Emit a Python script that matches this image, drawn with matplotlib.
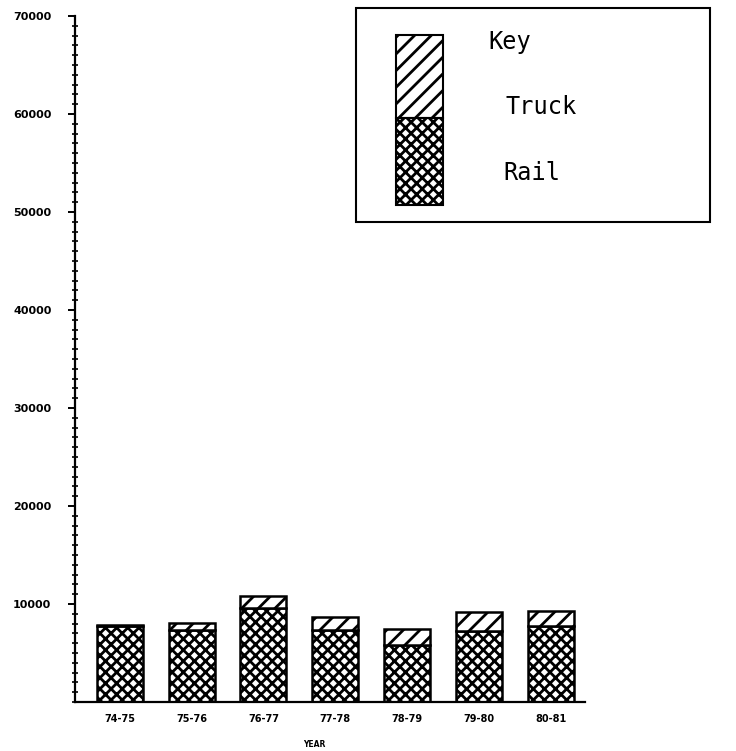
import matplotlib
matplotlib.use("Agg")
import matplotlib.pyplot as plt
from matplotlib.patches import Rectangle
from matplotlib.ticker import MultipleLocator

# Freight tonnage by fiscal year
years = ["74-75", "75-76", "76-77", "77-78", "78-79", "79-80", "80-81"]
rail = [7750, 7320, 9560, 7320, 5800, 7220, 7730]
truck = [80, 720, 1220, 1330, 1630, 1940, 1530]
y_ticks = [10000, 20000, 30000, 40000, 50000, 60000, 70000]

plt.rcParams["hatch.linewidth"] = 2.0
plt.rcParams["font.family"] = ["DejaVu Sans"]

fig = plt.figure(figsize=(7.36, 7.51), dpi=100)
W, H = 736, 751
ax = fig.add_axes([75 / W, 1 - 702 / H, (585 - 75) / W, (702 - 16) / H])

x = list(range(len(years)))
bw = 0.64
ax.bar(x, rail, width=bw, facecolor="white", edgecolor="black",
       hatch="xxx", linewidth=1.8)
ax.bar(x, truck, width=bw, bottom=rail, facecolor="white",
       edgecolor="black", hatch="//", linewidth=1.8)

ax.set_xlim(-0.62, 6.47)
ax.set_ylim(0, 70000)
ax.spines["top"].set_visible(False)
ax.spines["right"].set_visible(False)
ax.spines["left"].set_linewidth(1.6)
ax.spines["bottom"].set_linewidth(1.6)

ax.set_yticks(y_ticks)
ax.set_yticklabels([str(v) for v in y_ticks], fontsize=8, fontweight="bold")
ax.yaxis.set_minor_locator(MultipleLocator(1000))
ax.tick_params(axis="y", which="major", direction="out", length=5,
               width=1.4, pad=12)
ax.tick_params(axis="y", which="minor", direction="inout", length=4,
               width=1.2)

ax.set_xticks(x)
ax.set_xticklabels(years, fontsize=7, fontweight="bold")
ax.tick_params(axis="x", length=0, pad=9)
ax.set_xlabel("YEAR", fontsize=5.5, fontweight="bold")
ax.xaxis.set_label_coords(0.47, -0.055)

# Key box drawn in figure pixel coordinates
def fx(px):
    return px / W

def fy(py):
    return 1 - py / H

fig.patches.append(Rectangle((fx(356), fy(222)), fx(710) - fx(356),
                             fy(8) - fy(222), transform=fig.transFigure,
                             facecolor="white", edgecolor="black",
                             linewidth=1.5, zorder=5))
fig.patches.append(Rectangle((fx(396), fy(118)), fx(443) - fx(396),
                             fy(35) - fy(118), transform=fig.transFigure,
                             facecolor="white", edgecolor="black",
                             hatch="//", linewidth=1.5, zorder=6))
fig.patches.append(Rectangle((fx(396), fy(205)), fx(443) - fx(396),
                             fy(118) - fy(205), transform=fig.transFigure,
                             facecolor="white", edgecolor="black",
                             hatch="xxx", linewidth=1.5, zorder=6))

mono = "DejaVu Sans Mono"
fig.text(fx(488), fy(42), "Key", family=mono, fontsize=17,
         va="center", ha="left", zorder=7)
fig.text(fx(505), fy(107), "Truck", family=mono, fontsize=17,
         va="center", ha="left", zorder=7)
fig.text(fx(503), fy(173), "Rail", family=mono, fontsize=17,
         va="center", ha="left", zorder=7)

fig.savefig("out.png", dpi=100)
